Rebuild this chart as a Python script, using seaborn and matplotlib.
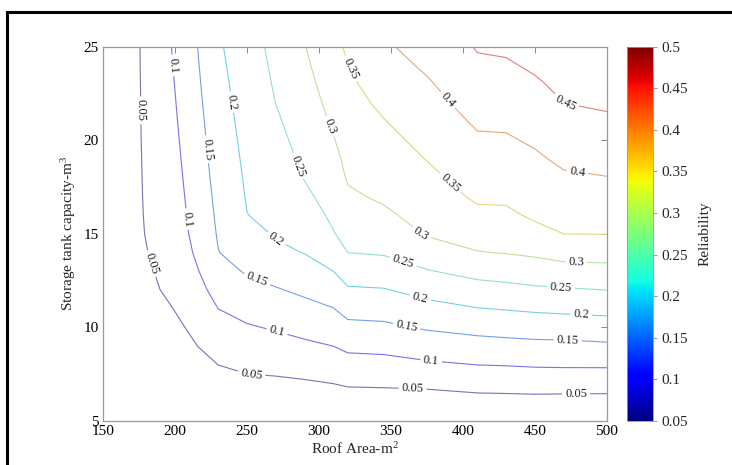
import numpy as np
import matplotlib
matplotlib.use("Agg")
import matplotlib.pyplot as plt
from matplotlib.colors import Normalize
from matplotlib.cm import ScalarMappable
from matplotlib.patches import Rectangle
import seaborn as sns

# grid
roof_area = [150, 175, 190, 210, 230, 250, 270, 290, 310, 320, 345, 375, 410, 430, 450, 470, 500]
storage = [5, 6, 7, 8, 9, 10, 11, 12, 13, 14, 15, 16, 17, 18, 19, 20, 21, 22, 23, 24, 25]

# one line per roof area, values for storage 5..25
reliability = [
    [0.0, 0.0, 0.0, 0.0, 0.0, 0.005, 0.010, 0.015, 0.020, 0.022, 0.024, 0.025, 0.026, 0.027, 0.028, 0.029, 0.030, 0.031, 0.032, 0.033, 0.034],
    [0.0, 0.002, 0.005, 0.010, 0.018, 0.027, 0.035, 0.040, 0.0447, 0.0467, 0.0476, 0.0477, 0.0477, 0.0477, 0.0477, 0.0479, 0.0480, 0.0480, 0.0482, 0.0484, 0.0485],
    [0.0, 0.003, 0.006, 0.012, 0.021, 0.0306, 0.0397, 0.0502, 0.0523, 0.0546, 0.0569, 0.0592, 0.0615, 0.0638, 0.0662, 0.0685, 0.0708, 0.0731, 0.0754, 0.0777, 0.080],
    [0.0033, 0.0134, 0.0234, 0.0334, 0.0435, 0.0535, 0.0635, 0.0736, 0.0836, 0.0937, 0.1012, 0.1044, 0.1075, 0.1107, 0.1139, 0.1171, 0.1203, 0.1234, 0.1266, 0.1298, 0.133],
    [0.0, 0.0167, 0.0333, 0.0501, 0.0667, 0.0833, 0.1001, 0.1163, 0.1326, 0.1489, 0.1537, 0.1577, 0.1616, 0.1656, 0.1696, 0.1735, 0.1775, 0.1815, 0.1855, 0.1894, 0.1934],
    [0.0035, 0.022, 0.0404, 0.0589, 0.0773, 0.0958, 0.1156, 0.1358, 0.1545, 0.1694, 0.1843, 0.1993, 0.2031, 0.2064, 0.2097, 0.2130, 0.2163, 0.2195, 0.2228, 0.2261, 0.2294],
    [0.0, 0.0208, 0.0417, 0.0625, 0.0833, 0.1042, 0.1253, 0.1464, 0.1684, 0.1907, 0.2039, 0.2106, 0.2173, 0.2240, 0.2306, 0.2373, 0.2440, 0.2504, 0.2547, 0.2589, 0.2632],
    [0.0, 0.0215, 0.0449, 0.0682, 0.0916, 0.1143, 0.1366, 0.1587, 0.1804, 0.2013, 0.2146, 0.2278, 0.2410, 0.2521, 0.2587, 0.2653, 0.2719, 0.2784, 0.2850, 0.2916, 0.2982],
    [0.0, 0.025, 0.0501, 0.075, 0.1001, 0.1244, 0.1488, 0.1744, 0.2001, 0.2238, 0.2476, 0.2587, 0.2683, 0.2779, 0.2875, 0.2971, 0.3057, 0.3140, 0.3222, 0.3304, 0.3386],
    [0.0, 0.0276, 0.0549, 0.0822, 0.1099, 0.1381, 0.1663, 0.1944, 0.2222, 0.2501, 0.2645, 0.2790, 0.2935, 0.3041, 0.3117, 0.3192, 0.3267, 0.3342, 0.3417, 0.3492, 0.3563],
    [0.0, 0.028, 0.0562, 0.0845, 0.1127, 0.1410, 0.1691, 0.1972, 0.2268, 0.2542, 0.2733, 0.2924, 0.3063, 0.3168, 0.3273, 0.3377, 0.3482, 0.3591, 0.3701, 0.3811, 0.3921],
    [0.0, 0.027, 0.0599, 0.0928, 0.1239, 0.1545, 0.1848, 0.2156, 0.2469, 0.2781, 0.3036, 0.3156, 0.3275, 0.3395, 0.3513, 0.3621, 0.3729, 0.3838, 0.3946, 0.4072, 0.4217],
    [0.0, 0.0333, 0.0667, 0.1001, 0.1318, 0.1645, 0.1983, 0.2317, 0.2649, 0.2980, 0.3197, 0.3406, 0.3568, 0.3691, 0.3815, 0.3938, 0.4063, 0.4190, 0.4316, 0.4443, 0.4527],
    [0.0, 0.0341, 0.0679, 0.1017, 0.1348, 0.1684, 0.2024, 0.2364, 0.2700, 0.3020, 0.3220, 0.3420, 0.3575, 0.3700, 0.3825, 0.3950, 0.4075, 0.4200, 0.4325, 0.4450, 0.4570],
    [0.0, 0.0351, 0.0698, 0.1043, 0.1377, 0.1720, 0.2070, 0.2423, 0.2758, 0.3078, 0.3369, 0.3567, 0.3689, 0.3811, 0.3933, 0.4058, 0.4186, 0.4314, 0.4442, 0.4564, 0.4680],
    [0.0, 0.0339, 0.0696, 0.1052, 0.1379, 0.1746, 0.2099, 0.2454, 0.2822, 0.3171, 0.3501, 0.3647, 0.3794, 0.3941, 0.4083, 0.4222, 0.4361, 0.4501, 0.4600, 0.4700, 0.4800],
    [0.0, 0.0335, 0.0694, 0.1055, 0.1423, 0.1780, 0.2138, 0.2501, 0.2850, 0.3187, 0.3508, 0.3668, 0.3829, 0.3989, 0.4136, 0.4281, 0.4427, 0.4564, 0.4693, 0.4821, 0.4950],
]

levels = [0.05, 0.1, 0.15, 0.2, 0.25, 0.3, 0.35, 0.4, 0.45]
cbar_ticks = [0.05, 0.1, 0.15, 0.2, 0.25, 0.3, 0.35, 0.4, 0.45, 0.5]
x_ticks = [150, 200, 250, 300, 350, 400, 450, 500]
y_ticks = [5, 10, 15, 20, 25]

# where the contour labels sit (layout only)
label_spots = [
    (175.7, 21.6), (185, 13.45), (253, 7.44), (365, 6.55), (478.5, 6.33),
    (198.8, 24.0), (204.6, 15.76), (270.6, 9.71), (377.8, 8.15),
    (219.7, 19.5), (255.6, 12.3), (360.4, 9.9), (472.7, 9.18),
    (234.7, 21.98), (268.3, 14.5), (369.7, 11.4), (482, 10.57),
    (284.5, 18.6), (357.4, 13.27), (468, 12.06),
    (307.6, 20.73), (367.4, 14.69), (478.5, 13.36),
    (318, 23.67), (391, 17.7),
    (391, 22.25), (479, 18.07),
    (470.8, 21.9),
]

sns.set_theme(style="white")
plt.rcParams['font.family'] = ['Liberation Serif', 'DejaVu Serif']
plt.rcParams['mathtext.fontset'] = 'custom'
plt.rcParams['mathtext.rm'] = 'Liberation Serif'
plt.rcParams['mathtext.it'] = 'Liberation Serif:italic'

# seaborn refuses to hand out "jet", so take it from matplotlib
cmap = plt.get_cmap('jet')
norm = Normalize(vmin=0.05, vmax=0.5)

# the source lines look washed out: jet mixed with a light grey
grey = np.array([0.8, 0.8, 0.84])
line_colors = [tuple(0.42 * np.array(cmap(norm(lv))[:3]) + 0.58 * grey) for lv in levels]

fig = plt.figure(figsize=(7.32, 4.65), dpi=100)
ax = fig.add_axes([0.1407, 0.0946, 0.6885, 0.805])
cax = fig.add_axes([0.8561, 0.0946, 0.0355, 0.805])

X, Y = np.meshgrid(roof_area, storage)
Z = np.array(reliability).T

cs = ax.contour(X, Y, Z, levels=levels, colors=line_colors, linewidths=0.8)
labels = ax.clabel(cs, inline=True, fmt='%g', fontsize=9, colors='k', manual=label_spots, inline_spacing=3)

ax.set_xlim(150, 500)
ax.set_ylim(5, 25)
ax.set_xticks(x_ticks)
ax.set_yticks(y_ticks)
ax.tick_params(direction='in', length=4, width=0.7, color='#8a8a8a', top=True, right=True,
               labelsize=11, labelcolor='black', pad=3)
for sp in ax.spines.values():
    sp.set_color('#9a9a9a')
    sp.set_linewidth(0.9)
ax.set_xlabel('Roof Area-m$^2$', fontsize=11, labelpad=2)
ax.set_ylabel('Storage tank capacity-m$^3$', fontsize=11, labelpad=4)

cb = fig.colorbar(ScalarMappable(norm=norm, cmap=cmap), cax=cax, ticks=cbar_ticks)
cb.ax.set_yticklabels(['%g' % t for t in cbar_ticks])
cb.ax.tick_params(length=3, width=0.6, color='#8a8a8a', labelsize=11, pad=3)
cb.outline.set_edgecolor('#9a9a9a')
cb.outline.set_linewidth(0.6)
cb.set_label('Reliability', fontsize=11, labelpad=8)

# black frame around the figure (clipped at right and bottom, like the source image)
fig.patches.append(Rectangle((0.0096, -0.2), 1.5, 0.974 + 0.2, transform=fig.transFigure,
                             fill=False, edgecolor='black', linewidth=2.2, clip_on=False))

fig.savefig('out.png', dpi=100)
